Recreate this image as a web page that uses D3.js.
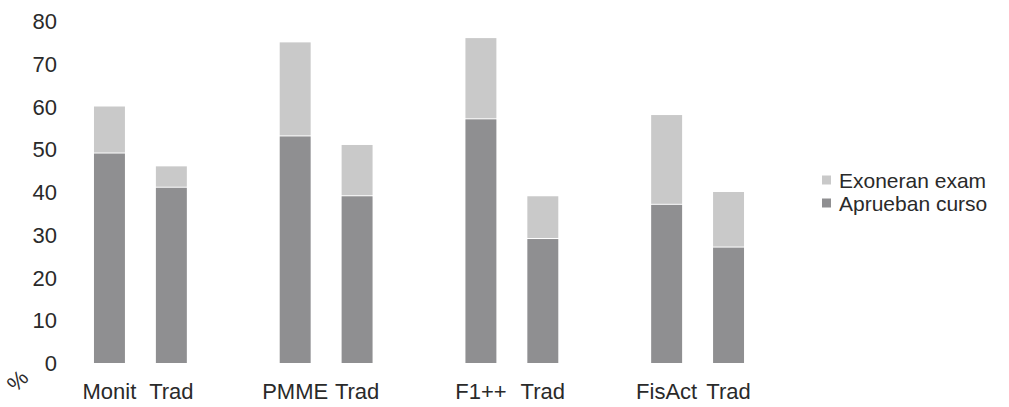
<!DOCTYPE html>
<html><head><meta charset="utf-8">
<script src="https://cdn.jsdelivr.net/npm/d3@7"></script>
<style>body{margin:0;background:#fff}svg{display:block}text{font-family:"Liberation Sans",Arial,sans-serif;fill:#2a2a2a}</style>
</head><body>
<svg id="c" width="1009" height="407"></svg>
<script>
const categories = ["Monit","Trad","PMME","Trad","F1++","Trad","FisAct","Trad"];
const slots = [0,1,3,4,6,7,9,10];
const aprueban = [49,41,53,39,57,29,37,27];
const exoneran = [11,5,22,12,19,10,21,13];
const yTicks = [0,10,20,30,40,50,60,70,80];
const seriesNames = ["Exoneran exam","Aprueban curso"];
const colors = {dark:"#8f8f91", light:"#c9c9c9"};

const svg = d3.select("#c");
const x = d3.scaleBand().domain(d3.range(11)).range([78.5,759.5]).paddingInner(0.5).paddingOuter(0.25);
const y = d3.scaleLinear().domain([0,80]).range([363,21]);
const fs = 22;

function label(g, tx, ty, txt, anchor, size){
  return g.append("text").attr("x",tx).attr("y",ty)
    .attr("text-anchor",anchor).attr("font-size",size||fs).text(txt);
}

// y axis labels
const ax = svg.append("g");
yTicks.forEach(t => label(ax, 57, y(t)+8, t, "end"));

// bars
const data = categories.map((c,i)=>({c, s:slots[i], a:aprueban[i], e:exoneran[i]}));
const g = svg.append("g");
g.selectAll("rect.d").data(data).join("rect").attr("class","d")
  .attr("x",d=>x(d.s)).attr("width",x.bandwidth())
  .attr("y",d=>y(d.a)).attr("height",d=>y(0)-y(d.a)).attr("fill",colors.dark);
g.selectAll("rect.l").data(data).join("rect").attr("class","l")
  .attr("x",d=>x(d.s)).attr("width",x.bandwidth())
  .attr("y",d=>y(d.a+d.e)).attr("height",d=>y(d.a)-y(d.a+d.e)-1).attr("fill",colors.light);

// x labels
const xl = svg.append("g");
data.forEach(d => label(xl, x(d.s)+x.bandwidth()/2, 399, d.c, "middle"));

// % label
svg.append("text").attr("transform","translate(23,386) rotate(-45)")
  .attr("text-anchor","middle").attr("font-size",22).text("%");

// legend
const lg = svg.append("g");
[[seriesNames[0],colors.light,180],[seriesNames[1],colors.dark,203]].forEach(([n,c,yy])=>{
  lg.append("rect").attr("x",822).attr("y",yy-4.5).attr("width",9).attr("height",9).attr("fill",c);
  label(lg, 839, yy+7.5, n, "start", 21);
});
</script>
</body></html>
